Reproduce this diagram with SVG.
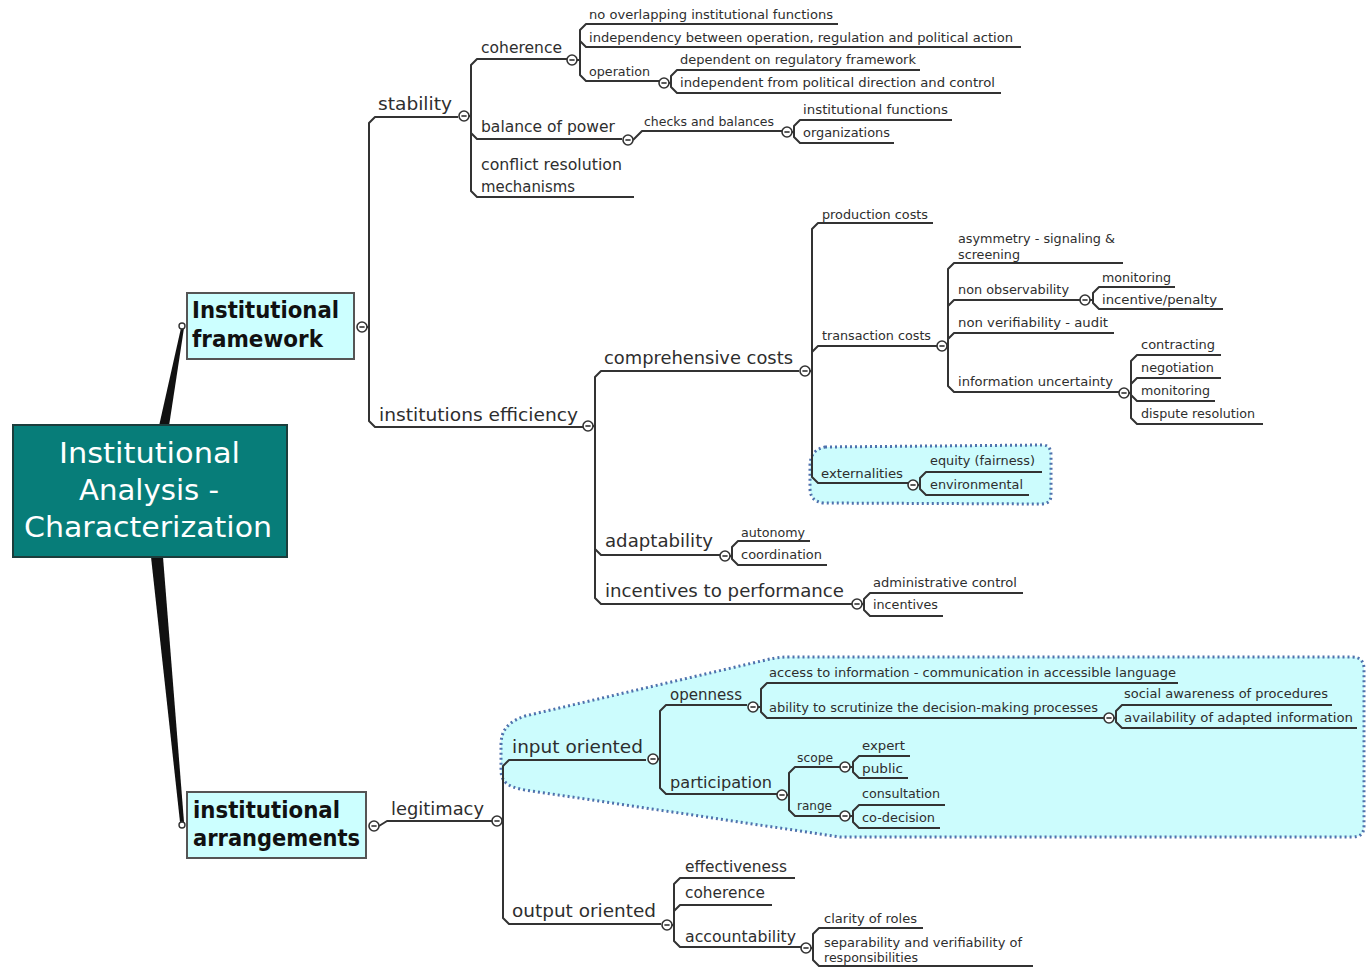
<svg xmlns="http://www.w3.org/2000/svg" width="1366" height="967" viewBox="0 0 1366 967">
<style>
.ln{fill:none;stroke:#333;stroke-width:2;stroke-linejoin:round}
.t{font-family:"DejaVu Sans",Verdana,sans-serif;fill:#2e2e2e}
.f0{font-size:28px;fill:#fff}
.f1{font-size:23px;font-weight:bold;fill:#111}
.f2{font-size:17px}
.f3{font-size:15px}
.f4{font-size:12px}
.grp{fill:#ccfcfd;stroke:#4f72ad;stroke-width:3;stroke-dasharray:2 3}
.box{fill:#ccffff;stroke:#555;stroke-width:2}
</style>
<defs>
<g id="c"><circle r="5" fill="#fff" stroke="#333" stroke-width="1.6"/><line x1="-2.6" x2="2.6" stroke="#333" stroke-width="1.6"/></g>
<g id="d"><circle r="3" fill="#fff" stroke="#333" stroke-width="1.4"/></g>
</defs>
<rect width="1366" height="967" fill="#fff"/>

<g id="groups">
<path class="grp" d="M501,745 C501,730 508,722 525,716 L770,659 C775,658 780,657 790,657 L1352,657 C1360,657 1364,661 1364,669 L1364,826 C1364,834 1360,837 1352,837 L840,837 L525,790 C508,787 501,782 501,770 Z"/>
<path class="grp" d="M825,447 L1042,445 C1049,445 1051,449 1051,456 L1051,495 C1051,501 1048,504 1041,504 L824,503 C814,502 810,497 810,488 L810,466 C810,455 815,449 825,447 Z"/>
</g>

<g id="connectors">
<polygon points="159,426 169,426 184,328 181,328" fill="#111"/>
<polygon points="151,557 163,557 184,822 180,822" fill="#111"/>
<path class="ln" d="M367,327 H369 V123 L375,117 H458"/>
<path class="ln" d="M369,327 V421 L375,427 H583"/>
<path class="ln" d="M469,116 H471 V65 L477,59 H567"/>
<path class="ln" d="M471,116 V133 L477,139 H622"/>
<path class="ln" d="M471,116 V191 L477,197 H634"/>
<path class="ln" d="M577,60 H580 V30 L586,24 H838"/>
<path class="ln" d="M580,60 V41 L586,47 H1021"/>
<path class="ln" d="M580,60 V75 L586,81 H659"/>
<path class="ln" d="M669,83 H671 V76 L677,70 H920"/>
<path class="ln" d="M671,83 V87 L677,93 H1001"/>
<path class="ln" d="M633,140 L642,131 H783"/>
<path class="ln" d="M792,132 H794 V126 L800,120 H952"/>
<path class="ln" d="M794,132 V137 L800,143 H894"/>
<path class="ln" d="M593,426 H595 V377 L601,371 H799"/>
<path class="ln" d="M595,426 V549 L601,555 H720"/>
<path class="ln" d="M595,426 V598 L601,604 H852"/>
<path class="ln" d="M810,371 H812 V229 L818,223 H933"/>
<path class="ln" d="M812,371 V352 L818,346 H937"/>
<path class="ln" d="M812,371 V477 L818,483 H908"/>
<path class="ln" d="M947,346 H948 V269 L954,263 H1123"/>
<path class="ln" d="M948,346 V306 L954,300 H1080"/>
<path class="ln" d="M948,346 V339 L954,333 H1114"/>
<path class="ln" d="M948,346 V386 L954,392 H1119"/>
<path class="ln" d="M1090,300 H1093 V293 L1099,287 H1175"/>
<path class="ln" d="M1093,300 V303 L1099,309 H1223"/>
<path class="ln" d="M1129,393 H1131 V361 L1137,355 H1221"/>
<path class="ln" d="M1131,393 V384 L1137,378 H1221"/>
<path class="ln" d="M1131,393 V395 L1137,401 H1215"/>
<path class="ln" d="M1131,393 V418 L1137,424 H1263"/>
<path class="ln" d="M918,485 H920 V478 L926,472 H1042"/>
<path class="ln" d="M920,485 V489 L926,495 H1029"/>
<path class="ln" d="M730,556 H732 V547 L738,541 H810"/>
<path class="ln" d="M732,556 V559 L738,565 H827"/>
<path class="ln" d="M862,604 H864 V599 L870,593 H1023"/>
<path class="ln" d="M864,604 V610 L870,616 H943"/>
<path class="ln" d="M379,826 L387,821 H492"/>
<path class="ln" d="M502,821 H503 V766 L509,760 H646"/>
<path class="ln" d="M503,821 V918 L509,924 H661"/>
<path class="ln" d="M658,759 H660 V711 L666,705 H747"/>
<path class="ln" d="M660,759 V788 L666,794 H777"/>
<path class="ln" d="M758,707 H761 V689 L767,683 H1178"/>
<path class="ln" d="M761,707 V712 L767,718 H1104"/>
<path class="ln" d="M1114,718 H1116 V711 L1122,705 H1332"/>
<path class="ln" d="M1116,718 V722 L1122,728 H1357"/>
<path class="ln" d="M787,795 H789 V773 L795,767 H840"/>
<path class="ln" d="M789,795 V810 L795,816 H840"/>
<path class="ln" d="M850,767 H853 V762 L859,756 H910"/>
<path class="ln" d="M853,767 V772 L859,778 H908"/>
<path class="ln" d="M850,816 H853 V811 L859,805 H945"/>
<path class="ln" d="M853,816 V822 L859,828 H940"/>
<path class="ln" d="M672,925 H674 V884 L680,878 H795"/>
<path class="ln" d="M674,925 V911 L680,905 H772"/>
<path class="ln" d="M674,925 V941 L680,947 H802"/>
<path class="ln" d="M811,948 H813 V934 L819,928 H923"/>
<path class="ln" d="M813,948 V960 L819,966 H1033"/>
</g>

<g id="n-root">
<rect x="13" y="425" width="274" height="132" fill="#077d79" stroke="#1c3d3c" stroke-width="2"/>
<text class="t f0" x="59" y="463" textLength="181" lengthAdjust="spacingAndGlyphs">Institutional</text>
<text class="t f0" x="79" y="500" textLength="140" lengthAdjust="spacingAndGlyphs">Analysis -</text>
<text class="t f0" x="24" y="537" textLength="248" lengthAdjust="spacingAndGlyphs">Characterization</text>
</g>

<g id="n-framework">
<rect class="box" x="187" y="293" width="167" height="66"/>
<text class="t f1" x="192" y="318" textLength="147" lengthAdjust="spacingAndGlyphs">Institutional</text>
<text class="t f1" x="192" y="347" textLength="131" lengthAdjust="spacingAndGlyphs">framework</text>
<use href="#d" x="182" y="326"/>
<use href="#c" x="362" y="327"/>
</g>

<g id="n-arrangements">
<rect class="box" x="187" y="792" width="179" height="66"/>
<text class="t f1" x="193" y="818" textLength="147" lengthAdjust="spacingAndGlyphs">institutional</text>
<text class="t f1" x="193" y="846" textLength="167" lengthAdjust="spacingAndGlyphs">arrangements</text>
<use href="#d" x="182" y="825"/>
<use href="#c" x="374" y="826"/>
</g>

<g id="n-stability"><text class="t f2" x="378" y="110" textLength="74" lengthAdjust="spacingAndGlyphs">stability</text><use href="#c" x="464" y="116"/></g>
<g id="n-coherence"><text class="t f3" x="481" y="53" textLength="81" lengthAdjust="spacingAndGlyphs">coherence</text><use href="#c" x="572" y="60"/></g>
<g id="n-no-overlap"><text class="t f4" x="589" y="19" textLength="244" lengthAdjust="spacingAndGlyphs">no overlapping institutional functions</text></g>
<g id="n-independency"><text class="t f4" x="589" y="42" textLength="424" lengthAdjust="spacingAndGlyphs">independency between operation, regulation and political action</text></g>
<g id="n-operation"><text class="t f4" x="589" y="76" textLength="61" lengthAdjust="spacingAndGlyphs">operation</text><use href="#c" x="664" y="83"/></g>
<g id="n-dependent"><text class="t f4" x="680" y="64" textLength="236" lengthAdjust="spacingAndGlyphs">dependent on regulatory framework</text></g>
<g id="n-independent"><text class="t f4" x="680" y="87" textLength="315" lengthAdjust="spacingAndGlyphs">independent from political direction and control</text></g>
<g id="n-balance"><text class="t f3" x="481" y="132" textLength="134" lengthAdjust="spacingAndGlyphs">balance of power</text><use href="#c" x="628" y="140"/></g>
<g id="n-checks"><text class="t f4" x="644" y="126" textLength="130" lengthAdjust="spacingAndGlyphs">checks and balances</text><use href="#c" x="787" y="132"/></g>
<g id="n-inst-functions"><text class="t f4" x="803" y="114" textLength="145" lengthAdjust="spacingAndGlyphs">institutional functions</text></g>
<g id="n-organizations"><text class="t f4" x="803" y="137" textLength="87" lengthAdjust="spacingAndGlyphs">organizations</text></g>
<g id="n-conflict"><text class="t f3" x="481" y="170" textLength="141" lengthAdjust="spacingAndGlyphs">conflict resolution</text><text class="t f3" x="481" y="192" textLength="94" lengthAdjust="spacingAndGlyphs">mechanisms</text></g>

<g id="n-efficiency"><text class="t f2" x="379" y="421" textLength="199" lengthAdjust="spacingAndGlyphs">institutions efficiency</text><use href="#c" x="588" y="426"/></g>
<g id="n-comprehensive"><text class="t f2" x="604" y="364" textLength="189" lengthAdjust="spacingAndGlyphs">comprehensive costs</text><use href="#c" x="805" y="371"/></g>
<g id="n-production"><text class="t f4" x="822" y="219" textLength="106" lengthAdjust="spacingAndGlyphs">production costs</text></g>
<g id="n-transaction"><text class="t f4" x="822" y="340" textLength="109" lengthAdjust="spacingAndGlyphs">transaction costs</text><use href="#c" x="942" y="346"/></g>
<g id="n-asymmetry"><text class="t f4" x="958" y="243" textLength="157" lengthAdjust="spacingAndGlyphs">asymmetry - signaling &amp;</text><text class="t f4" x="958" y="259" textLength="62" lengthAdjust="spacingAndGlyphs">screening</text></g>
<g id="n-nonobs"><text class="t f4" x="958" y="294" textLength="111" lengthAdjust="spacingAndGlyphs">non observability</text><use href="#c" x="1085" y="300"/></g>
<g id="n-monitoring1"><text class="t f4" x="1102" y="282" textLength="69" lengthAdjust="spacingAndGlyphs">monitoring</text></g>
<g id="n-incentive-penalty"><text class="t f4" x="1102" y="304" textLength="115" lengthAdjust="spacingAndGlyphs">incentive/penalty</text></g>
<g id="n-nonverif"><text class="t f4" x="958" y="327" textLength="150" lengthAdjust="spacingAndGlyphs">non verifiability - audit</text></g>
<g id="n-info-uncert"><text class="t f4" x="958" y="386" textLength="155" lengthAdjust="spacingAndGlyphs">information uncertainty</text><use href="#c" x="1124" y="393"/></g>
<g id="n-contracting"><text class="t f4" x="1141" y="349" textLength="74" lengthAdjust="spacingAndGlyphs">contracting</text></g>
<g id="n-negotiation"><text class="t f4" x="1141" y="372" textLength="73" lengthAdjust="spacingAndGlyphs">negotiation</text></g>
<g id="n-monitoring2"><text class="t f4" x="1141" y="395" textLength="69" lengthAdjust="spacingAndGlyphs">monitoring</text></g>
<g id="n-dispute"><text class="t f4" x="1141" y="418" textLength="114" lengthAdjust="spacingAndGlyphs">dispute resolution</text></g>
<g id="n-externalities"><text class="t f4" x="821" y="478" textLength="82" lengthAdjust="spacingAndGlyphs">externalities</text><use href="#c" x="913" y="485"/></g>
<g id="n-equity"><text class="t f4" x="930" y="465" textLength="105" lengthAdjust="spacingAndGlyphs">equity (fairness)</text></g>
<g id="n-environmental"><text class="t f4" x="930" y="489" textLength="93" lengthAdjust="spacingAndGlyphs">environmental</text></g>
<g id="n-adaptability"><text class="t f2" x="605" y="547" textLength="108" lengthAdjust="spacingAndGlyphs">adaptability</text><use href="#c" x="725" y="556"/></g>
<g id="n-autonomy"><text class="t f4" x="741" y="537" textLength="64" lengthAdjust="spacingAndGlyphs">autonomy</text></g>
<g id="n-coordination"><text class="t f4" x="741" y="559" textLength="81" lengthAdjust="spacingAndGlyphs">coordination</text></g>
<g id="n-incentives-perf"><text class="t f2" x="605" y="597" textLength="239" lengthAdjust="spacingAndGlyphs">incentives to performance</text><use href="#c" x="857" y="604"/></g>
<g id="n-admin"><text class="t f4" x="873" y="587" textLength="144" lengthAdjust="spacingAndGlyphs">administrative control</text></g>
<g id="n-incentives"><text class="t f4" x="873" y="609" textLength="65" lengthAdjust="spacingAndGlyphs">incentives</text></g>

<g id="n-legitimacy"><text class="t f2" x="391" y="815" textLength="93" lengthAdjust="spacingAndGlyphs">legitimacy</text><use href="#c" x="497" y="821"/></g>
<g id="n-input"><text class="t f2" x="512" y="753" textLength="131" lengthAdjust="spacingAndGlyphs">input oriented</text><use href="#c" x="653" y="759"/></g>
<g id="n-openness"><text class="t f3" x="670" y="700" textLength="72" lengthAdjust="spacingAndGlyphs">openness</text><use href="#c" x="753" y="707"/></g>
<g id="n-access"><text class="t f4" x="769" y="677" textLength="407" lengthAdjust="spacingAndGlyphs">access to information - communication in accessible language</text></g>
<g id="n-ability"><text class="t f4" x="769" y="712" textLength="329" lengthAdjust="spacingAndGlyphs">ability to scrutinize the decision-making processes</text><use href="#c" x="1109" y="718"/></g>
<g id="n-social"><text class="t f4" x="1124" y="698" textLength="204" lengthAdjust="spacingAndGlyphs">social awareness of procedures</text></g>
<g id="n-availability"><text class="t f4" x="1124" y="722" textLength="229" lengthAdjust="spacingAndGlyphs">availability of adapted information</text></g>
<g id="n-participation"><text class="t f3" x="670" y="788" textLength="102" lengthAdjust="spacingAndGlyphs">participation</text><use href="#c" x="782" y="795"/></g>
<g id="n-scope"><text class="t f4" x="797" y="762" textLength="36" lengthAdjust="spacingAndGlyphs">scope</text><use href="#c" x="845" y="767"/></g>
<g id="n-expert"><text class="t f4" x="862" y="750" textLength="43" lengthAdjust="spacingAndGlyphs">expert</text></g>
<g id="n-public"><text class="t f4" x="862" y="773" textLength="41" lengthAdjust="spacingAndGlyphs">public</text></g>
<g id="n-range"><text class="t f4" x="797" y="810" textLength="35" lengthAdjust="spacingAndGlyphs">range</text><use href="#c" x="845" y="816"/></g>
<g id="n-consultation"><text class="t f4" x="862" y="798" textLength="78" lengthAdjust="spacingAndGlyphs">consultation</text></g>
<g id="n-codecision"><text class="t f4" x="862" y="822" textLength="73" lengthAdjust="spacingAndGlyphs">co-decision</text></g>
<g id="n-output"><text class="t f2" x="512" y="917" textLength="144" lengthAdjust="spacingAndGlyphs">output oriented</text><use href="#c" x="667" y="925"/></g>
<g id="n-effectiveness"><text class="t f3" x="685" y="872" textLength="102" lengthAdjust="spacingAndGlyphs">effectiveness</text></g>
<g id="n-coherence2"><text class="t f3" x="685" y="898" textLength="80" lengthAdjust="spacingAndGlyphs">coherence</text></g>
<g id="n-accountability"><text class="t f3" x="685" y="942" textLength="111" lengthAdjust="spacingAndGlyphs">accountability</text><use href="#c" x="806" y="948"/></g>
<g id="n-clarity"><text class="t f4" x="824" y="923" textLength="93" lengthAdjust="spacingAndGlyphs">clarity of roles</text></g>
<g id="n-separability"><text class="t f4" x="824" y="947" textLength="198" lengthAdjust="spacingAndGlyphs">separability and verifiability of</text><text class="t f4" x="824" y="962" textLength="94" lengthAdjust="spacingAndGlyphs">responsibilities</text></g>
</svg>
